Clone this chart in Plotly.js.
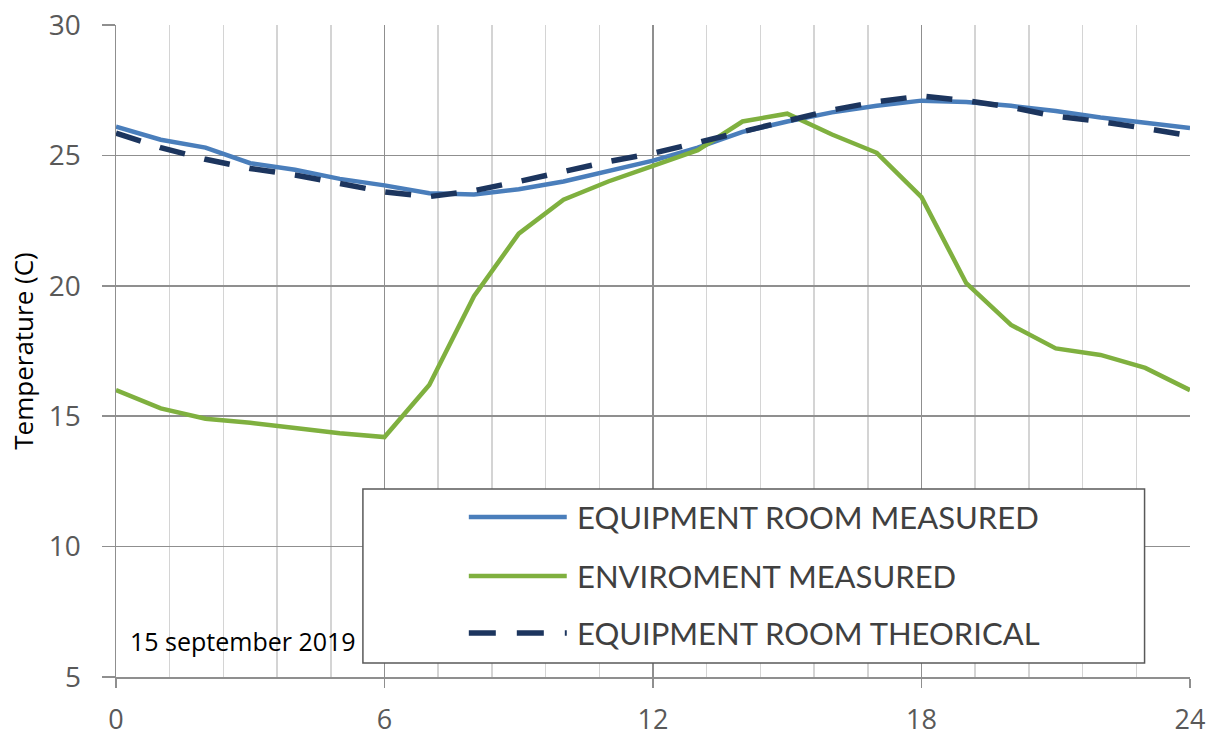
<!DOCTYPE html>
<html>
<head>
<meta charset="utf-8">
<script src="https://cdn.plot.ly/plotly-3.0.1.min.js"></script>
<style>html,body{margin:0;padding:0;background:#fff;}#chart{width:1212px;height:738px;}</style>
</head>
<body>
<div id="chart"></div>
<script>
const hours = [0,1,2,3,4,5,6,7,8,9,10,11,12,13,14,15,16,17,18,19,20,21,22,23,24];
const roomMeasured = [26.1,25.6,25.3,24.7,24.45,24.1,23.85,23.55,23.5,23.7,24.0,24.4,24.8,25.3,25.9,26.3,26.65,26.9,27.1,27.05,26.9,26.7,26.45,26.25,26.05];
const environmentMeasured = [16.0,15.3,14.9,14.75,14.55,14.35,14.2,16.2,19.6,22.0,23.3,24.0,24.6,25.2,26.3,26.6,25.8,25.1,23.4,20.1,18.5,17.6,17.35,16.85,16.0];
const roomTheoretical = [25.85,25.3,24.85,24.5,24.25,23.95,23.6,23.42,23.65,24.0,24.38,24.76,25.08,25.5,25.9,26.33,26.74,27.06,27.28,27.1,26.85,26.5,26.3,26.04,25.75];
const seriesNames = ["EQUIPMENT ROOM MEASURED","ENVIROMENT MEASURED","EQUIPMENT ROOM THEORICAL"];
const xTicks = [0,6,12,18,24];
const yTicks = [5,10,15,20,25,30];
const dateLabel = "15 september 2019";
const yTitle = "Temperature (C)";

const BLUE = "#4a7ebb", GREEN = "#7fb03f", NAVY = "#1c355e";

const traces = [
  {x: hours, y: roomMeasured, name: seriesNames[0], mode: "lines", line: {color: BLUE, width: 4.5}},
  {x: hours, y: environmentMeasured, name: seriesNames[1], mode: "lines", line: {color: GREEN, width: 4.5}},
  {x: hours, y: roomTheoretical, name: seriesNames[2], mode: "lines", line: {color: NAVY, width: 5.5, dash: "26px,20px"}}
];

// manual legend (box, symbols, labels) in paper coordinates
const legRowsY = [0.2454, 0.1549, 0.0675];
const legColors = [BLUE, GREEN, NAVY];
const legDash = ["solid", "solid", "27px,21px"];
const shapes = [
  {type: "rect", xref: "paper", yref: "paper", x0: 0.2299, x1: 0.9577, y0: 0.0215, y1: 0.2883,
   fillcolor: "#ffffff", line: {color: "#595959", width: 1.5}, layer: "above"}
];
const annotations = [];
seriesNames.forEach((n, i) => {
  shapes.push({type: "line", xref: "paper", yref: "paper", x0: 0.3285, x1: 0.4197, y0: legRowsY[i], y1: legRowsY[i],
    line: {color: legColors[i], width: i === 2 ? 5.5 : 4.5, dash: legDash[i]}, layer: "above"});
  annotations.push({xref: "paper", yref: "paper", x: 0.4272, y: legRowsY[i], xanchor: "left", yanchor: "middle",
    text: n, showarrow: false, font: {family: "Lato, 'Open Sans', sans-serif", size: 31, color: "#404040"}});
});
annotations.push({xref: "paper", yref: "paper", x: 0.0112, y: 0.0552, xanchor: "left", yanchor: "middle",
  text: dateLabel, showarrow: false, font: {family: "'Open Sans', sans-serif", size: 25, color: "#000000"}});

const layout = {
  width: 1212, height: 738,
  margin: {l: 116, r: 21.5, t: 25, b: 61, pad: 0},
  paper_bgcolor: "#ffffff", plot_bgcolor: "#ffffff",
  showlegend: false,
  font: {family: "Lato, sans-serif"},
  xaxis: {
    range: [0, 24], tickmode: "array", tickvals: xTicks, ticktext: xTicks.map(String),
    showgrid: true, gridcolor: "#8f8f8f", gridwidth: 1.5,
    minor: {dtick: 1.2, tick0: 0, showgrid: true, gridcolor: "#d4d4d4", gridwidth: 1.5},
    ticks: "outside", ticklen: 9, tickwidth: 1.5, tickcolor: "#8f8f8f",
    showline: true, linecolor: "#8f8f8f", linewidth: 1.5, mirror: false,
    zeroline: false, ticklabelstandoff: 9,
    tickfont: {family: "'Open Sans', sans-serif", size: 27, color: "#595959"}
  },
  yaxis: {
    range: [5, 30], tickmode: "array", tickvals: yTicks, ticktext: yTicks.map(String),
    showgrid: true, gridcolor: "#8f8f8f", gridwidth: 1.5,
    ticks: "outside", ticklen: 13, tickwidth: 1.5, tickcolor: "#8f8f8f",
    showline: true, linecolor: "#8f8f8f", linewidth: 1.5,
    zeroline: false, ticklabelstandoff: 15,
    tickfont: {family: "'Open Sans', sans-serif", size: 28, color: "#595959"},
    title: {text: yTitle, font: {family: "'Open Sans', sans-serif", size: 26, color: "#000000"}, standoff: 8}
  },
  shapes: shapes,
  annotations: annotations
};

Plotly.newPlot("chart", traces, layout, {displayModeBar: false, staticPlot: true});
</script>
</body>
</html>
